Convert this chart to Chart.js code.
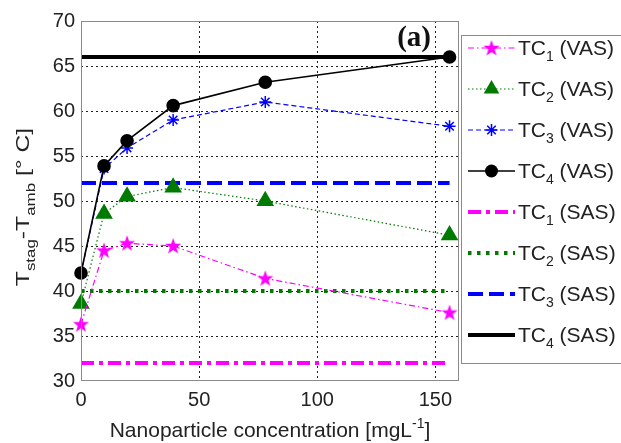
<!DOCTYPE html>
<html>
<head>
<meta charset="utf-8">
<script src="https://cdn.jsdelivr.net/npm/chart.js@4"></script>
<style>
  html, body { margin: 0; padding: 0; background: #fff; }
  #wrap { width: 621px; height: 443px; }
</style>
</head>
<body>
<div id="wrap"><canvas id="tempChart" width="621" height="443"></canvas></div>
<script>
// Concentrações (mg/L) e temperaturas de estagnação medidas
const concentrations = [0, 9.75, 19.5, 39, 78, 156];
const tc1Vas = [36.3, 44.5, 45.3, 45.0, 41.4, 37.6];
const tc2Vas = [38.6, 48.6, 50.5, 51.5, 50.0, 46.2];
const tc3Vas = [42.0, 53.6, 55.9, 59.0, 61.0, 58.3];
const tc4Vas = [42.0, 53.9, 56.7, 60.6, 63.2, 66.0];
// Níveis constantes do SAS (TC1..TC4), traçados de uma ponta à outra
const sasLevels = [32, 40, 52, 66];
const sasSpan = [0, 156];
const xTicks = [0, 50, 100, 150];
const legendLabels = [
    ['1', 'VAS'], ['2', 'VAS'], ['3', 'VAS'], ['4', 'VAS'],
    ['1', 'SAS'], ['2', 'SAS'], ['3', 'SAS'], ['4', 'SAS']
];

const FONT = '"Liberation Sans", Arial, sans-serif';
const MAGENTA = '#ff00ff';
const GREEN = '#007a00';
const BLUE = '#0000ff';

/**
 * Desenha um pentagrama preenchido centrado em (cx, cy).
 */
function pathStar(ctx, cx, cy, R) {
    const r = R * 0.4;
    ctx.beginPath();
    for (let i = 0; i < 10; i++) {
        const rad = -Math.PI / 2 + i * Math.PI / 5;
        const len = i % 2 === 0 ? R : r;
        const px = cx + Math.cos(rad) * len;
        const py = cy + Math.sin(rad) * len;
        if (i === 0) ctx.moveTo(px, py); else ctx.lineTo(px, py);
    }
    ctx.closePath();
}

// Marcador do TC1 como imagem, já que o Chart.js não tem estrela cheia
const starImg = document.createElement('canvas');
starImg.width = 18;
starImg.height = 18;
(function () {
    const c = starImg.getContext('2d');
    pathStar(c, 9, 9.5, 8.5);
    c.fillStyle = MAGENTA;
    c.fill();
})();

const toPoints = ys => concentrations.map((x, i) => ({ x, y: ys[i] }));
const sasPoints = y => sasSpan.map(x => ({ x, y }));

const datasets = [
    { label: 'TC1 (VAS)', data: toPoints(tc1Vas), borderColor: MAGENTA, borderWidth: 1.2,
      borderDash: [6, 3, 1.5, 3], pointStyle: starImg, pointRadius: 8, marker: 'pent' },
    { label: 'TC2 (VAS)', data: toPoints(tc2Vas), borderColor: GREEN, borderWidth: 1.2,
      borderDash: [1.5, 2.5], pointStyle: 'triangle', pointRadius: 9,
      pointBackgroundColor: GREEN, pointBorderColor: GREEN, marker: 'triangle' },
    { label: 'TC3 (VAS)', data: toPoints(tc3Vas), borderColor: BLUE, borderWidth: 1.2,
      borderDash: [5, 3], pointStyle: 'star', pointRadius: 6, pointBorderWidth: 1.5,
      pointBorderColor: BLUE, marker: 'star' },
    { label: 'TC4 (VAS)', data: toPoints(tc4Vas), borderColor: '#000', borderWidth: 1.6,
      pointStyle: 'circle', pointRadius: 6, pointBackgroundColor: '#000', pointBorderColor: '#000',
      marker: 'circle' },
    { label: 'TC1 (SAS)', data: sasPoints(sasLevels[0]), borderColor: MAGENTA, borderWidth: 4,
      borderDash: [13, 5, 4, 5], pointRadius: 0 },
    { label: 'TC2 (SAS)', data: sasPoints(sasLevels[1]), borderColor: GREEN, borderWidth: 4,
      borderDash: [3.5, 5.5], pointRadius: 0 },
    { label: 'TC3 (SAS)', data: sasPoints(sasLevels[2]), borderColor: BLUE, borderWidth: 4,
      borderDash: [15, 6], pointRadius: 0 },
    { label: 'TC4 (SAS)', data: sasPoints(sasLevels[3]), borderColor: '#000', borderWidth: 4,
      pointRadius: 0 }
];
// As linhas VAS ficam por cima das SAS (TC4 por cima de todas); marcadores podem passar da moldura
datasets.forEach((d, i) => {
    d.order = i === 3 ? -1 : (i < 4 ? 0 : 1);
    d.fill = false;
    d.tension = 0;
    d.clip = false;
    d.backgroundColor = d.pointBackgroundColor || d.borderColor;
});

function drawMarker(ctx, ds, x, y) {
    ctx.save();
    ctx.setLineDash([]);
    if (ds.marker === 'pent') {
        ctx.drawImage(starImg, x - 9, y - 9);
    } else if (ds.marker === 'triangle') {
        const r = ds.pointRadius;
        ctx.beginPath();
        for (let k = 0; k < 3; k++) {
            const rad = -Math.PI / 2 + k * 2 * Math.PI / 3;
            const px = x + Math.cos(rad) * r, py = y + Math.sin(rad) * r;
            if (k === 0) ctx.moveTo(px, py); else ctx.lineTo(px, py);
        }
        ctx.closePath();
        ctx.fillStyle = GREEN;
        ctx.fill();
    } else if (ds.marker === 'star') {
        const r = ds.pointRadius;
        ctx.strokeStyle = BLUE;
        ctx.lineWidth = 1.5;
        ctx.beginPath();
        for (let k = 0; k < 4; k++) {
            const rad = k * Math.PI / 4;
            ctx.moveTo(x - Math.cos(rad) * r, y - Math.sin(rad) * r);
            ctx.lineTo(x + Math.cos(rad) * r, y + Math.sin(rad) * r);
        }
        ctx.stroke();
    } else if (ds.marker === 'circle') {
        ctx.beginPath();
        ctx.arc(x, y, 6.5, 0, Math.PI * 2);
        ctx.fillStyle = '#000';
        ctx.fill();
    }
    ctx.restore();
}

// Moldura, títulos dos eixos, rótulo (a) e legenda com subscritos
const decorations = {
    id: 'decorations',
    afterDraw(chart) {
        const ctx = chart.ctx;
        const a = chart.chartArea;
        ctx.save();

        // moldura cinza do eixo
        ctx.strokeStyle = '#8a8a8a';
        ctx.lineWidth = 1;
        ctx.setLineDash([]);
        ctx.strokeRect(a.left + 0.5, a.top + 0.5, a.right - a.left - 1, a.bottom - a.top - 1);

        // (a)
        ctx.fillStyle = '#111';
        ctx.font = 'bold 29px "Liberation Serif", "Times New Roman", serif';
        ctx.textAlign = 'right';
        ctx.textBaseline = 'alphabetic';
        ctx.fillText('(a)', 431, 46);

        // título do eixo x
        ctx.fillStyle = '#222';
        ctx.textAlign = 'left';
        const xMain = 'Nanoparticle concentration [mgL';
        ctx.font = '21px ' + FONT;
        const wMain = ctx.measureText(xMain).width;
        ctx.font = '14px ' + FONT;
        const wSup = ctx.measureText('-1').width;
        ctx.font = '21px ' + FONT;
        const wEnd = ctx.measureText(']').width;
        let tx = 270 - (wMain + wSup + wEnd) / 2;
        const by = 437;
        ctx.fillText(xMain, tx, by);
        tx += wMain;
        ctx.font = '14px ' + FONT;
        ctx.fillText('-1', tx, by - 9);
        tx += wSup;
        ctx.font = '21px ' + FONT;
        ctx.fillText(']', tx, by);

        // título do eixo y (rotacionado e um pouco alongado)
        const parts = [
            ['T', 19, 0], ['stag', 13, 6], ['-T', 19, 0], ['amb', 13, 6], [' [\u00b0 C]', 19, 0]
        ];
        let total = 0;
        parts.forEach(p => { ctx.font = p[1] + 'px ' + FONT; total += ctx.measureText(p[0]).width; });
        ctx.translate(29, 207);
        ctx.rotate(-Math.PI / 2);
        ctx.scale(1.3, 1);
        let px = -total / 2;
        parts.forEach(p => {
            ctx.font = p[1] + 'px ' + FONT;
            ctx.fillText(p[0], px, p[2]);
            px += ctx.measureText(p[0]).width;
        });
        ctx.setTransform(1, 0, 0, 1, 0, 0);

        // legenda
        const boxL = 461.5, boxT = 35.5, boxB = 363.5;
        ctx.fillStyle = '#fff';
        ctx.fillRect(boxL, boxT, 200, boxB - boxT);
        ctx.strokeStyle = '#8a8a8a';
        ctx.lineWidth = 1;
        ctx.strokeRect(boxL, boxT, 200, boxB - boxT);

        chart.data.datasets.forEach((ds, i) => {
            const cy = 48 + i * 41;
            ctx.save();
            ctx.strokeStyle = ds.borderColor;
            ctx.lineWidth = ds.borderWidth;
            ctx.setLineDash(ds.borderDash || []);
            ctx.beginPath();
            ctx.moveTo(468, cy);
            ctx.lineTo(515, cy);
            ctx.stroke();
            ctx.restore();
            drawMarker(ctx, ds, 491.5, cy);

            const [num, kind] = legendLabels[i];
            let lx = 518;
            const base = cy + 7;
            ctx.fillStyle = '#222';
            ctx.textAlign = 'left';
            ctx.font = '21px ' + FONT;
            ctx.fillText('TC', lx, base);
            lx += ctx.measureText('TC').width;
            ctx.font = '14px ' + FONT;
            ctx.fillText(num, lx, base + 6);
            lx += ctx.measureText(num).width;
            ctx.font = '21px ' + FONT;
            ctx.fillText(' (' + kind + ')', lx, base);
        });
        ctx.restore();
    }
};

const gridColor = (edges) => c => edges.includes(c.tick.value) ? 'rgba(0,0,0,0)' : '#222';

new Chart(document.getElementById('tempChart'), {
    type: 'line',
    data: { datasets },
    options: {
        responsive: false,
        animation: false,
        layout: { padding: { top: 21, right: 162, left: 0, bottom: 0 } },
        plugins: {
            legend: { display: false },
            tooltip: { enabled: false }
        },
        scales: {
            x: {
                type: 'linear',
                min: 0,
                max: 160,
                afterBuildTicks: s => { s.ticks = xTicks.map(v => ({ value: v })); },
                afterFit: s => { s.height = 62; },
                grid: { color: gridColor([0, 160]), lineWidth: 1, drawTicks: false },
                border: { display: false, dash: [2, 3] },
                ticks: {
                    color: '#222',
                    padding: 7,
                    maxRotation: 0,
                    font: { family: FONT, size: 20 }
                }
            },
            y: {
                min: 30,
                max: 70,
                afterFit: s => { s.width = 81; },
                grid: { color: gridColor([30, 70]), lineWidth: 1, drawTicks: false },
                border: { display: false, dash: [2, 3] },
                ticks: {
                    stepSize: 5,
                    color: '#222',
                    padding: 6,
                    font: { family: FONT, size: 20 }
                }
            }
        }
    },
    plugins: [decorations]
});
</script>
</body>
</html>
